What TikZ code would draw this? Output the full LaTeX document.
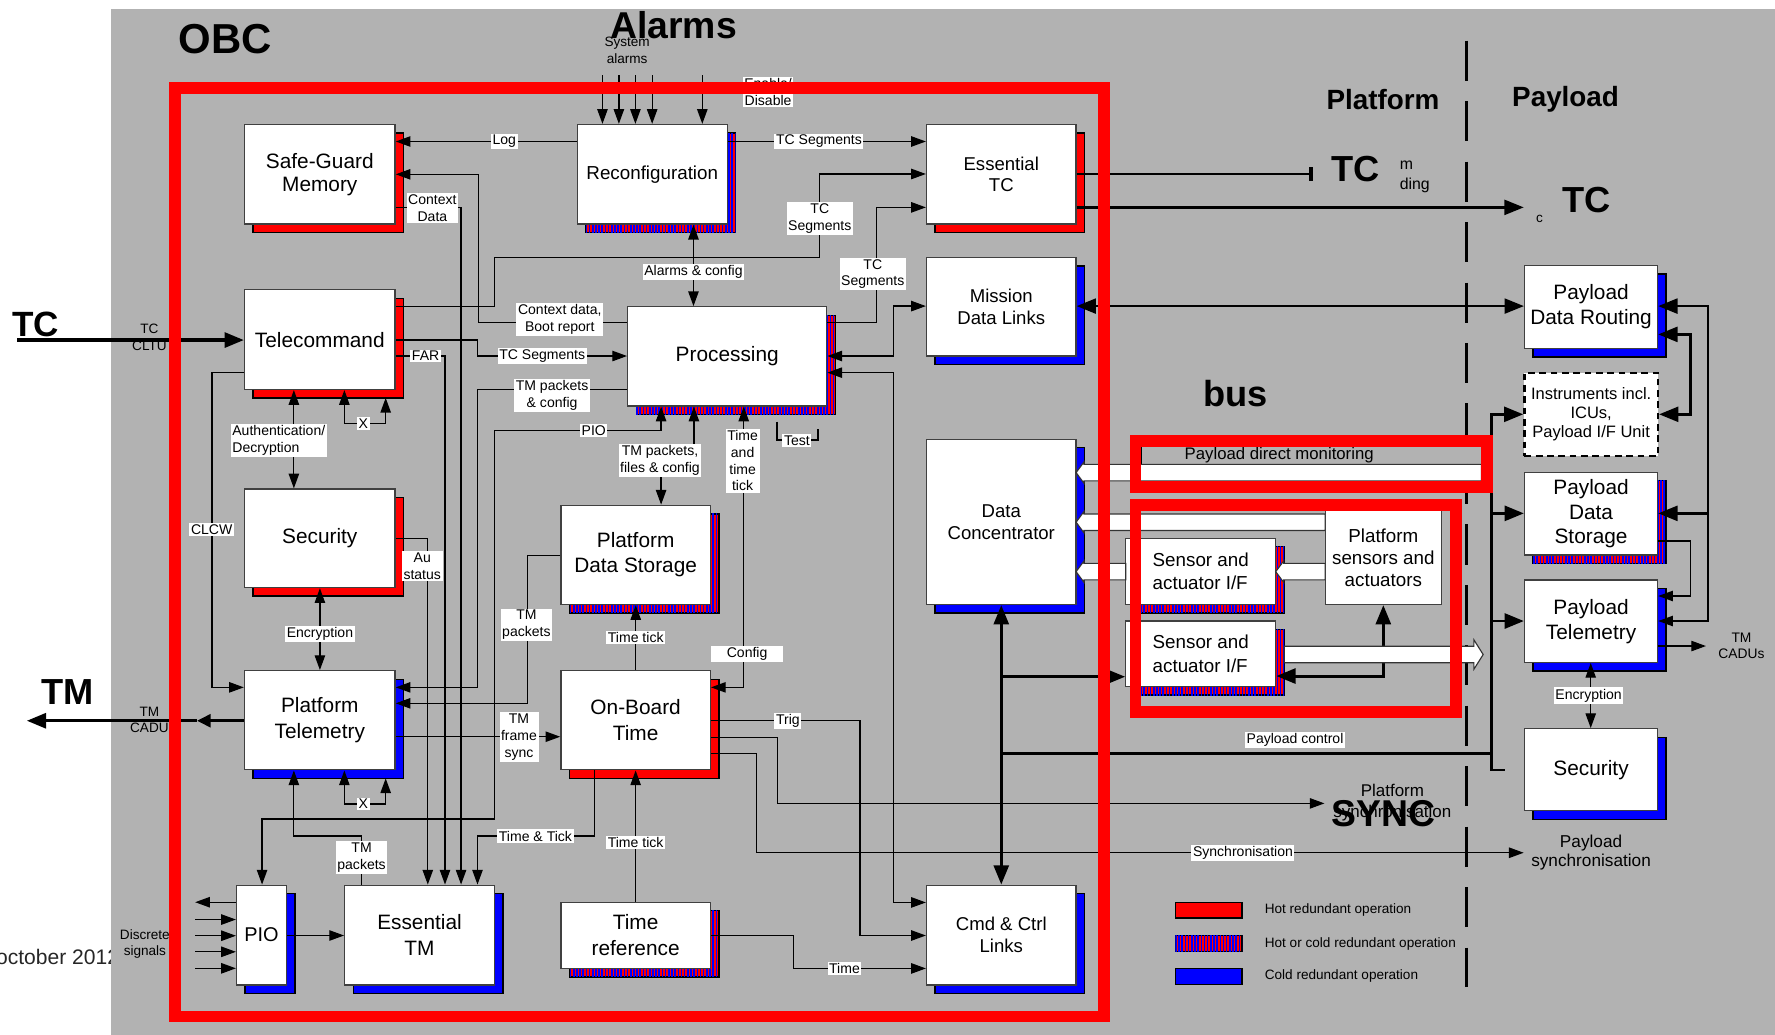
\documentclass[tikz,border=0pt]{standalone}
\usepackage{fontspec}
\setmainfont{Liberation Sans}
\usetikzlibrary{arrows.meta,shadows,patterns.meta,positioning}

\definecolor{bggray}{RGB}{178,178,178}

% white bus arrow: tail x, tip x, head base x, y, head half height
\newcommand{\fatarr}[5]{%
  \filldraw[fill=white,draw=black!80,line width=.5pt]
    (#1,#4-7.3) -- (#3,#4-7.3) -- (#3,#4-#5) -- (#2,#4)
    -- (#3,#4+#5) -- (#3,#4+7.3) -- (#1,#4+7.3) -- cycle;}

\tikzset{
  blk/.style={draw=black!75,fill=white,line width=.6pt,inner sep=0pt,align=center,
    font=\fontsize{9.2}{11.4}\selectfont},
  sblk/.style={font=\fontsize{8.2}{9.6}\selectfont},
  hot/.style={general shadow={shadow xshift=3.75pt,shadow yshift=-3.75pt,fill=red,draw=black}},
  cold/.style={general shadow={shadow xshift=3.75pt,shadow yshift=-3.75pt,fill=blue,draw=black}},
  hoc/.style={general shadow={shadow xshift=3.75pt,shadow yshift=-3.75pt,fill=red,draw=black},
    general shadow={shadow xshift=3.75pt,shadow yshift=-3.75pt,
      pattern={Lines[angle=90,distance=1.4pt,line width=.7pt]},pattern color=blue}},
  lbl/.style={fill=white,inner sep=.7pt,align=center,font=\fontsize{6.2}{7.4}\selectfont},
  txt/.style={inner sep=0pt,align=center,font=\fontsize{6}{7.2}\selectfont},
  hdg/.style={inner sep=0pt,font=\bfseries\fontsize{#1}{#1}\selectfont},
  pil/.style={-{Triangle[length=6.5pt,width=4.6pt]}},
  bpil/.style={{Triangle[length=6.5pt,width=4.6pt]}-{Triangle[length=6.5pt,width=4.6pt]}},
  thk/.style={line width=1.3pt},
  tpil/.style={-{Triangle[length=8.5pt,width=6.6pt]}},
  tbpil/.style={{Triangle[length=8.5pt,width=6.6pt]}-{Triangle[length=8.5pt,width=6.6pt]}},
  obc/.style={draw=red,line width=5.2pt}
}

\begin{document}
\begin{tikzpicture}[x=0.5pt,y=-0.5pt,line width=.55pt]
\useasboundingbox (0,0) rectangle (1568,914);
\node[anchor=base west,inner sep=0pt,text=black!85,font=\fontsize{9.3}{10}\selectfont] (date) at (-4,852) {october 2012};
\fill[bggray] (98,8) rectangle (1568,914);
\draw[line width=1.1pt,dash pattern=on 17.75pt off 8.95pt] (1295.3,36) -- (1295.3,872);

% headings
\node[hdg=18.5] (hobc) at (199,34.6) {OBC};
\node[hdg=16.5] (halarm) at (595,22) {Alarms};
\node[hdg=12.3] (hplat) at (1221.7,88) {Platform};
\node[hdg=12.3] (hpay) at (1383,88) {Payload};
\node[hdg=16] (hbus) at (1091.5,347.5) {bus};
\node[hdg=15.5] (htcin) at (31.5,286.5) {TC};
\node[hdg=16] (htmout) at (60,611) {TM};
\node[hdg=16] (htcp) at (1197.5,149) {TC};
\node[hdg=16] (htcq) at (1401.8,176.8) {TC};
\node[txt,anchor=west,font=\fontsize{7}{8}\selectfont] (frag1) at (1236,145.8) {m};
\node[txt,anchor=west,font=\fontsize{7}{8}\selectfont] (frag2) at (1236,163.4) {ding};
\node[txt] (frag3) at (1360,193) {c};
\node[txt,font=\fontsize{7.5}{8.9}\selectfont] (psynctxt) at (1230,709) {Platform\\synchronisation};
\node[hdg=16.5] (hsync) at (1221.8,718.5) {SYNC};
\node[txt,font=\fontsize{7.6}{8.7}\selectfont] (ysynctxt) at (1405.5,753) {Payload\\synchronisation};

% OBC blocks
\node[blk,hot,minimum width=66.5pt,minimum height=44pt,font=\fontsize{9.2}{10.3}\selectfont] (sgm) at (282.5,154) {Safe-Guard\\Memory};
\node[blk,hot,minimum width=66.5pt,minimum height=44pt] (tcmd) at (282.5,300) {Telecommand};
\node[blk,hot,minimum width=66.5pt,minimum height=43.5pt] (sec) at (282.5,475.5) {Security};
\node[blk,cold,minimum width=66.5pt,minimum height=43.75pt] (ptm) at (282.5,636.25) {Platform\\Telemetry};
\node[blk,cold,minimum width=22pt,minimum height=44pt,font=\fontsize{8.8}{10}\selectfont] (pio) at (231,826) {PIO};
\node[blk,cold,minimum width=66.1pt,minimum height=44pt] (etm) at (370.6,826) {Essential\\TM};
\node[blk,hoc,minimum width=66.2pt,minimum height=44pt,font=\fontsize{8.3}{10}\selectfont] (recon) at (576.2,154) {Reconfiguration};
\node[blk,hot,sblk,minimum width=66pt,minimum height=44pt] (etc) at (884.5,154) {Essential\\TC};
\node[blk,cold,sblk,minimum width=66pt,minimum height=43.5pt] (mdl) at (884.5,271) {Mission\\Data Links};
\node[blk,hoc,minimum width=87.9pt,minimum height=43.8pt] (proc) at (642.4,314.8) {Processing};
\node[blk,hoc,minimum width=66pt,minimum height=43.8pt,font=\fontsize{9.2}{11}\selectfont] (pds) at (561.5,490.2) {Platform\\Data Storage};
\node[blk,hot,minimum width=66pt,minimum height=43.75pt] (obt) at (561.5,636.25) {On-Board\\Time};
\node[blk,hoc,minimum width=66pt,minimum height=29.25pt] (tref) at (561.5,826.25) {Time\\reference};
\node[blk,cold,sblk,minimum width=66pt,minimum height=44pt] (ccl) at (884.5,826) {Cmd \& Ctrl\\Links};
\node[blk,cold,sblk,minimum width=66pt,minimum height=73pt] (dc) at (884.5,461) {Data\\Concentrator};

% platform and payload blocks
\node[blk,cold,minimum width=58.75pt,minimum height=36.55pt,font=\fontsize{9.2}{11}\selectfont] (pdr) at (1405.5,271.25) {Payload\\Data Routing};
\node[blk,draw=black,line width=1pt,dash pattern=on 3pt off 2pt,minimum width=59pt,minimum height=36.6pt,font=\fontsize{7.3}{8.5}\selectfont] (ins) at (1405.6,365.9) {Instruments incl.\\ICUs,\\Payload I/F Unit};
\node[blk,hoc,minimum width=58.75pt,minimum height=36.55pt,font=\fontsize{9.2}{11}\selectfont] (plds) at (1405.5,453.75) {Payload\\Data\\Storage};
\node[blk,cold,minimum width=58.75pt,minimum height=36.35pt,font=\fontsize{9.2}{11}\selectfont] (pltm) at (1405.5,548.75) {Payload\\Telemetry};
\node[blk,cold,minimum width=58.75pt,minimum height=36.25pt] (psec) at (1405.5,680) {Security};
\node[blk,minimum width=51.35pt,minimum height=41.45pt,font=\fontsize{8.3}{9.7}\selectfont] (psa) at (1222,492.5) {Platform\\sensors and\\actuators};
\node[blk,hoc,align=left,minimum width=66.2pt,minimum height=29.2pt,font=\fontsize{8.3}{10.3}\selectfont] (sai1) at (1060.7,504.7) {Sensor and\\actuator I/F};
\node[blk,hoc,align=left,minimum width=66.2pt,minimum height=29pt,font=\fontsize{8.3}{10.3}\selectfont] (sai2) at (1060.7,577.6) {Sensor and\\actuator I/F};

% alarms
\node[txt] (alarmtxt) at (554,44.5) {System\\alarms};
\foreach \x in {532.2,546.7,561.3,576.1}
  \draw[pil] (\x,66.3) -- (recon.north -| \x,0);
\draw[pil] (620.4,66.3) -- (recon.north -| 620.4,0);
\node[lbl] (enbl) at (678.5,81) {Enable/\\Disable};

% OBC links
\draw[pil] (recon.west |- 0,125) -- node[lbl,pos=.4]{Log} (sgm.east |- 0,125);
\draw[pil] (recon.east |- 0,125) -- node[lbl,pos=.46]{TC Segments} (etc.west |- 0,125);
\draw[bpil] (recon.south -| 612.6,0) -- node[lbl,pos=.58]{Alarms \& config} (proc.north -| 612.6,0);
\draw[pil] (tcmd.east |- 0,271) -- (436.7,271) -- (436.7,227.4) -- (724.2,227.4) -- (724.2,153.7) -- (etc.west |- 0,153.7);
\node[lbl] (l1) at (724.2,193) {TC\\Segments};
\draw[pil] (proc.west |- 0,285) -- (422.5,285) -- (422.5,154) -- (sgm.east |- 0,154);
\node[lbl] (l2) at (494.5,282) {Context data,\\Boot report};
\draw[pil] (sgm.east |- 0,183.2) -- (407.3,183.2) -- (407.3,0 |- etm.north);
\node[lbl] (l3) at (382,184) {Context\\Data};
\draw[pil] (tcmd.east |- 0,314.5) -- (393.1,314.5) -- (393.1,0 |- etm.north);
\node[lbl] (l4) at (376,314.5) {FAR};
\draw[pil] (sec.east |- 0,475.9) -- (377.9,475.9) -- (377.9,0 |- etm.north);
\node[lbl] (l5) at (373,500) {Au\\status};
\draw[pil] (obt.south -| 525,0) -- (525,738.6) -- (421.8,738.6) -- (421.8,0 |- etm.north);
\node[lbl] (l6) at (473,738.6) {Time \& Tick};
\draw[pil] (tcmd.east |- 0,300.3) -- (421.8,300.3) -- (421.8,314.5) -- (proc.west |- 0,314.5);
\node[lbl] (l7) at (479,314.5) {TC Segments};
\draw[pil] (proc.west |- 0,344) -- (421.8,344) -- (421.8,607.2) -- (ptm.east |- 0,607.2);
\node[lbl] (l8) at (487.7,349) {TM packets\\\& config};
\draw[bpil] (proc.south -| 584,0) -- (584,380.4) -- (436.7,380.4) -- (436.7,723.5) -- (231.5,723.5) -- (pio.north -| 231.5,0);
\node[lbl] (l9) at (524.5,380.4) {PIO};
\draw[bpil] (proc.south -| 613,0) -- (613,407) -- (584,407) -- (pds.north -| 584,0);
\node[lbl] (l10) at (583,407) {TM packets,\\files \& config};
\draw[bpil] (proc.south -| 657,0) -- (657,607.2) -- (obt.east |- 0,607.2);
\node[lbl] (l11) at (656,407) {Time\\and\\time\\tick};
\node[lbl,inner xsep=7pt] (l12) at (660,578) {Config};
\draw (686.3,372.5) -- (686.3,388.7) -- (722.5,388.7) -- (722.5,379.3);
\node[lbl] (l13) at (704,389) {Test};
\draw[pil] (proc.east |- 0,285) -- (774.2,285) -- (774.2,183.2) -- (etc.west |- 0,183.2);
\node[lbl] (l14) at (771,242) {TC\\Segments};
\draw[bpil] (proc.east |- 0,314.5) -- (789,314.5) -- (789,270.4) -- (mdl.west |- 0,270.4);
\draw[bpil] (proc.east |- 0,329.2) -- (789,329.2) -- (789,797.2) -- (ccl.west |- 0,797.2);
\draw[pil] (obt.north -| 561.6,0) -- node[lbl]{Time tick} (pds.south -| 561.6,0);
\draw[pil] (ptm.east |- 0,650.8) -- (obt.west |- 0,650.8);
\node[lbl] (l15) at (458.5,651) {TM\\frame\\sync};
\draw[pil] (tref.north) -- node[lbl,pos=.45]{Time tick} (obt.south);
\draw[pil] (tref.east |- 0,826.4) -- (700.9,826.4) -- (700.9,855.5) -- (ccl.west |- 0,855.5);
\node[lbl] (l16) at (746,855.5) {Time};
\draw[pil] (obt.east |- 0,636.7) -- (759.7,636.7) -- (759.7,826.4) -- (ccl.west |- 0,826.4);
\node[lbl] (l17) at (696,636.7) {Trig};
\coordinate (psync) at (1170,709.7);
\draw[pil] (obt.east |- 0,651.4) -- (686.7,651.4) -- (686.7,709.7) -- (psync);
\coordinate (ysync) at (1346,753.3);
\draw[pil] (obt.east |- 0,665.5) -- (668.4,665.5) -- (668.4,753.3) -- (ysync);
\node[lbl] (l18) at (1098,753.3) {Synchronisation};

\draw[bpil] (tcmd.south -| 259.6,0) -- (sec.north -| 259.6,0);
\node[lbl,align=left] (l19) at (246.3,388.7) {Authentication/\\Decryption};
\draw[bpil] (tcmd.south -| 304.2,0) -- (304.2,374) -- (340.7,374) -- (340.7,351.5);
\node[lbl] (l20) at (321,374) {X};
\draw[bpil] (ptm.south -| 304.2,0) -- (304.2,710.3) -- (340.7,710.3) -- (340.7,687.6);
\node[lbl] (l21) at (321,710.3) {X};
\draw[pil] (tcmd.west |- 0,329.2) -- (187.3,329.2) -- (187.3,607.2) -- (ptm.west |- 0,607.2);
\node[lbl] (l22) at (187,468) {CLCW};
\draw[bpil] (sec.south -| 282.6,0) -- node[lbl,pos=.56]{Encryption} (ptm.north -| 282.6,0);
\draw[pil] (pds.west |- 0,490.6) -- (465.8,490.6) -- (465.8,621.3) -- (ptm.east |- 0,621.3);
\node[lbl] (l23) at (465,552) {TM\\packets};
\draw[pil] (etm.north -| 319.4,0) -- (319.4,738.6) -- (259.6,738.6) -- (ptm.south -| 259.6,0);
\node[lbl] (l24) at (319.4,757.7) {TM\\packets};
\draw[pil] (pio.east |- 0,826.4) -- (etm.west |- 0,826.4);
\draw[pil] (pio.west |- 0,797) -- (172.4,797);
\foreach \y in {812.3,826.6,840.8,855.4}
  \draw[pil] (172.4,\y) -- (pio.west |- 0,\y);
\node[txt] (disc) at (128,833.7) {Discrete\\signals};

% ground links
\coordinate (tcin) at (15.2,300.4);
\draw[line width=1.4pt,tpil] (tcin) -- (tcmd.west |- 0,300.4);
\node[txt] (cltu) at (132,298) {TC\\CLTU};
\coordinate (tmout) at (23.7,636.7);
\draw[line width=1.4pt,-{Triangle[length=6pt,width=5.6pt]}] (ptm.west |- 0,636.7) -- (174,636.7);
\draw[line width=1.4pt,tpil] (174,636.7) -- (tmout);
\node[txt] (cadu) at (132,636) {TM\\CADU};

% platform / payload links
\coordinate (tcp) at (1160,153.7);
\draw[line width=1pt,-{Rectangle[length=2pt,width=6pt]}] (etc.east |- 0,153.7) -- (tcp);
\coordinate (tcq) at (1346,183.2);
\draw[line width=1pt,tpil] (etc.east |- 0,183.2) -- (tcq);
\draw[line width=1pt,tbpil] (mdl.east |- 0,270.4) -- (pdr.west |- 0,270.4);
\draw[thk,tbpil] (dc.south) -- (ccl.north);
\draw[thk,tpil] (884.5,597.8) -- (sai2.west |- 0,597.8);
\draw[thk] (884.5,665.5) -- (1317.8,665.5);
\node[lbl] (l25) at (1144,653.7) {Payload control};
\draw[thk,tbpil] (psa.south) -- (psa.south |- 0,597.2) -- (sai2.east |- 0,597.2);
\draw[line width=1.1pt,tbpil] (pdr.east |- 0,295.4) -- (1493.5,295.4) -- (1493.5,366) -- (ins.east |- 0,366);
\draw[line width=1.1pt,tbpil] (pdr.east |- 0,270.4) -- (1508.7,270.4) -- (1508.7,453.5) -- (plds.east |- 0,453.5);
\draw[pil] (1508.7,453.5) -- (1508.7,548.6) -- (pltm.east |- 0,548.6);
\draw[pil] (plds.east |- 0,477.9) -- (1493.5,477.9) -- (1493.5,526.5) -- (pltm.east |- 0,526.5);
\coordinate (cadus) at (1507,570.7);
\draw[pil] (pltm.east |- 0,570.7) -- (cadus);
\node[txt,font=\fontsize{6.1}{7.5}\selectfont] (cadustxt) at (1538.4,570.5) {TM\\CADUs};
\draw[bpil] (pltm.south -| 1405.2,0) -- (psec.north -| 1405.2,0);
\node[lbl] (l26) at (1403.3,614.3) {Encryption};
\draw[thk,tpil] (1329.2,680.2) -- (1317.8,680.2) -- (1317.8,366) -- (ins.west |- 0,366);
\draw[thk,tpil] (1317.8,453.5) -- (plds.west |- 0,453.5);
\draw[thk,tpil] (1317.8,548.6) -- (pltm.west |- 0,548.6);

% bus arrows into the data concentrator
\draw[line width=.5pt] (1008.2,394.6) rectangle (1308.6,424.9);
\node[txt,font=\fontsize{7.4}{8}\selectfont] (pdmtxt) at (1130,402.5) {Payload direct monitoring};
\fatarr{1308.6}{950.6}{957.6}{417.5}{9.5}
\fatarr{1170.6}{950.6}{957.6}{461.3}{9.5}
\fatarr{994.5}{950.6}{957.6}{505}{9.5}
\fatarr{1170.6}{1126.9}{1134}{505}{9.5}
\fatarr{1134.5}{1310.2}{1302}{578.2}{13}

% red frames
\draw[obc] (154.5,78) rectangle (975,898);
\draw[obc] (1003,389.5) rectangle (1313.7,430.5);
\draw[obc] (1003,446) rectangle (1286,629);

% legend
\node[draw=black,fill=red,minimum width=29.5pt,minimum height=7pt,inner sep=0pt] (lhot) at (1067.7,804) {};
\node[draw=black,fill=red,minimum width=29.5pt,minimum height=7pt,inner sep=0pt,
  postaction={pattern={Lines[angle=90,distance=1.4pt,line width=.7pt]},pattern color=blue}] (lhoc) at (1067.7,833.6) {};
\node[draw=black,fill=blue,minimum width=29.5pt,minimum height=7pt,inner sep=0pt] (lcold) at (1067.7,862.5) {};
\node[txt,right=9.5pt of lhot] (thot) {Hot redundant operation};
\node[txt,right=9.5pt of lhoc] (thoc) {Hot or cold redundant operation};
\node[txt,right=9.5pt of lcold] (tcold) {Cold redundant operation};
\end{tikzpicture}
\end{document}
